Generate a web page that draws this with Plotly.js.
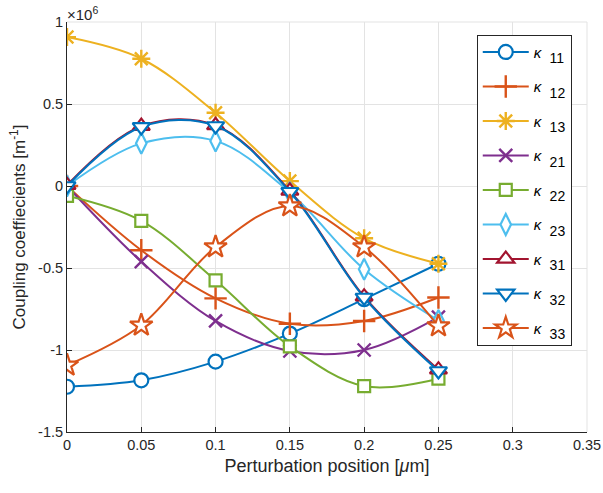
<!DOCTYPE html>
<html><head><meta charset="utf-8">
<script src="https://cdn.plot.ly/plotly-3.0.1.min.js"></script>
<style>body{margin:0;background:#fff}#plot{width:603px;height:493px}</style>
</head><body><div id="plot"></div>
<script>
// positions in micrometres
const xPos = [0, 0.05, 0.1, 0.15, 0.2, 0.25];
// coupling coefficients, units of 1e6 m^-1
const k11 = [-1.224, -1.185, -1.071, -0.900, -0.690, -0.474];
const k12 = [0.0, -0.392, -0.685, -0.840, -0.823, -0.680];
const k13 = [0.908, 0.776, 0.447, 0.030, -0.319, -0.474];
const k21 = [0.0, -0.461, -0.823, -1.006, -1.000, -0.800];
const k22 = [-0.060, -0.213, -0.575, -0.978, -1.220, -1.175];
const k23 = [0.0, 0.260, 0.275, -0.040, -0.508, -0.820];
const k31 = [0.005, 0.365, 0.370, -0.030, -0.675, -1.120];
const k32 = [0.0, 0.360, 0.366, -0.035, -0.680, -1.128];
const k33 = [-1.093, -0.849, -0.372, -0.122, -0.372, -0.854];
const seriesNames = ['11','12','13','21','22','23','31','32','33'];
const seriesVals = [k11,k12,k13,k21,k22,k23,k31,k32,k33];
const xTicks = [0, 0.05, 0.1, 0.15, 0.2, 0.25, 0.3, 0.35];
const xTickText = ['0','0.05','0.1','0.15','0.2','0.25','0.3','0.35'];
const yTicks = [-1.5, -1, -0.5, 0, 0.5, 1];
const yTickText = ['-1.5','-1','-0.5','0','0.5','1'];

const colors = ['#0072BD','#D95319','#EDB120','#7E2F8E','#77AC30','#4DBEEE','#A2142F','#0072BD','#D95319'];
const symbols = ['circle','cross-thin-open','asterisk-open','x-thin-open','square','diamond-tall','triangle-up','triangle-down','star'];
const openSym = [false,true,true,true,false,false,false,false,false];
const sizes = [14, 16, 15, 13, 12, 15, 15, 15, 17];

const traces = seriesVals.map((v,i)=>({
  x: xPos, y: v, type:'scatter', mode:'lines+markers',
  name: '<i>κ</i>  <sub><sub><span style="font-size:14px">' + seriesNames[i] + '</span></sub></sub>',
  legendgroup: 'g'+i,
  line: {color: colors[i], width: 2, shape:'spline', smoothing: 1},
  marker: {symbol: symbols[i], size: sizes[i], color: openSym[i] ? colors[i] : '#ffffff',
           line: {color: colors[i], width: openSym[i] ? 2.4 : 2.2}}
}));

const layout = {
  width: 603, height: 493,
  margin: {l: 67, r: 16, t: 22, b: 61},
  paper_bgcolor: '#fff', plot_bgcolor: '#fff',
  font: {family: 'Liberation Sans, Arial, sans-serif', color: '#262626', size: 14},
  xaxis: {range: [0, 0.35], tickvals: xTicks, ticktext: xTickText,
          showgrid: true, gridcolor: '#e3e3e3', zeroline: false,
          showline: true, linecolor: '#262626', linewidth: 1,
          ticks: 'inside', ticklen: 5, tickcolor: '#262626',
          tickfont: {size: 14.5},
          title: {text: 'Perturbation position [<i>μ</i>m]', font: {size: 18}, standoff: 6}},
  yaxis: {range: [-1.5, 1], tickvals: yTicks, ticktext: yTickText,
          showgrid: true, gridcolor: '#e3e3e3', zeroline: false,
          showline: true, linecolor: '#262626', linewidth: 1,
          ticks: 'inside', ticklen: 5, tickcolor: '#262626',
          tickfont: {size: 14.5},
          title: {text: 'Coupling coeffiecients [m<sup>-1</sup>]', font: {size: 17}, standoff: 8}},
  shapes: [
    {type:'line', xref:'paper', yref:'paper', x0:0, x1:1, y0:1, y1:1, line:{color:'#e3e3e3', width:1}},
    {type:'line', xref:'paper', yref:'paper', x0:1, x1:1, y0:0, y1:1, line:{color:'#e3e3e3', width:1}}
  ],
  annotations: [{xref:'paper', yref:'paper', x:0, y:1, xanchor:'left', yanchor:'bottom',
    text: '×10<sup>6</sup>', showarrow:false, font:{size:15, color:'#262626'}, yshift: -3, xshift: -2}],
  legend: {x: 0.788, y: 0.969, xanchor:'left', yanchor:'top',
           bgcolor:'#fff', bordercolor:'#262626', borderwidth:1,
           font:{size:15, color:'#000'}, itemwidth: 46, tracegroupgap: 12},
  showlegend: true
};
Plotly.newPlot('plot', traces, layout, {displayModeBar:false, staticPlot:true});
</script></body></html>
